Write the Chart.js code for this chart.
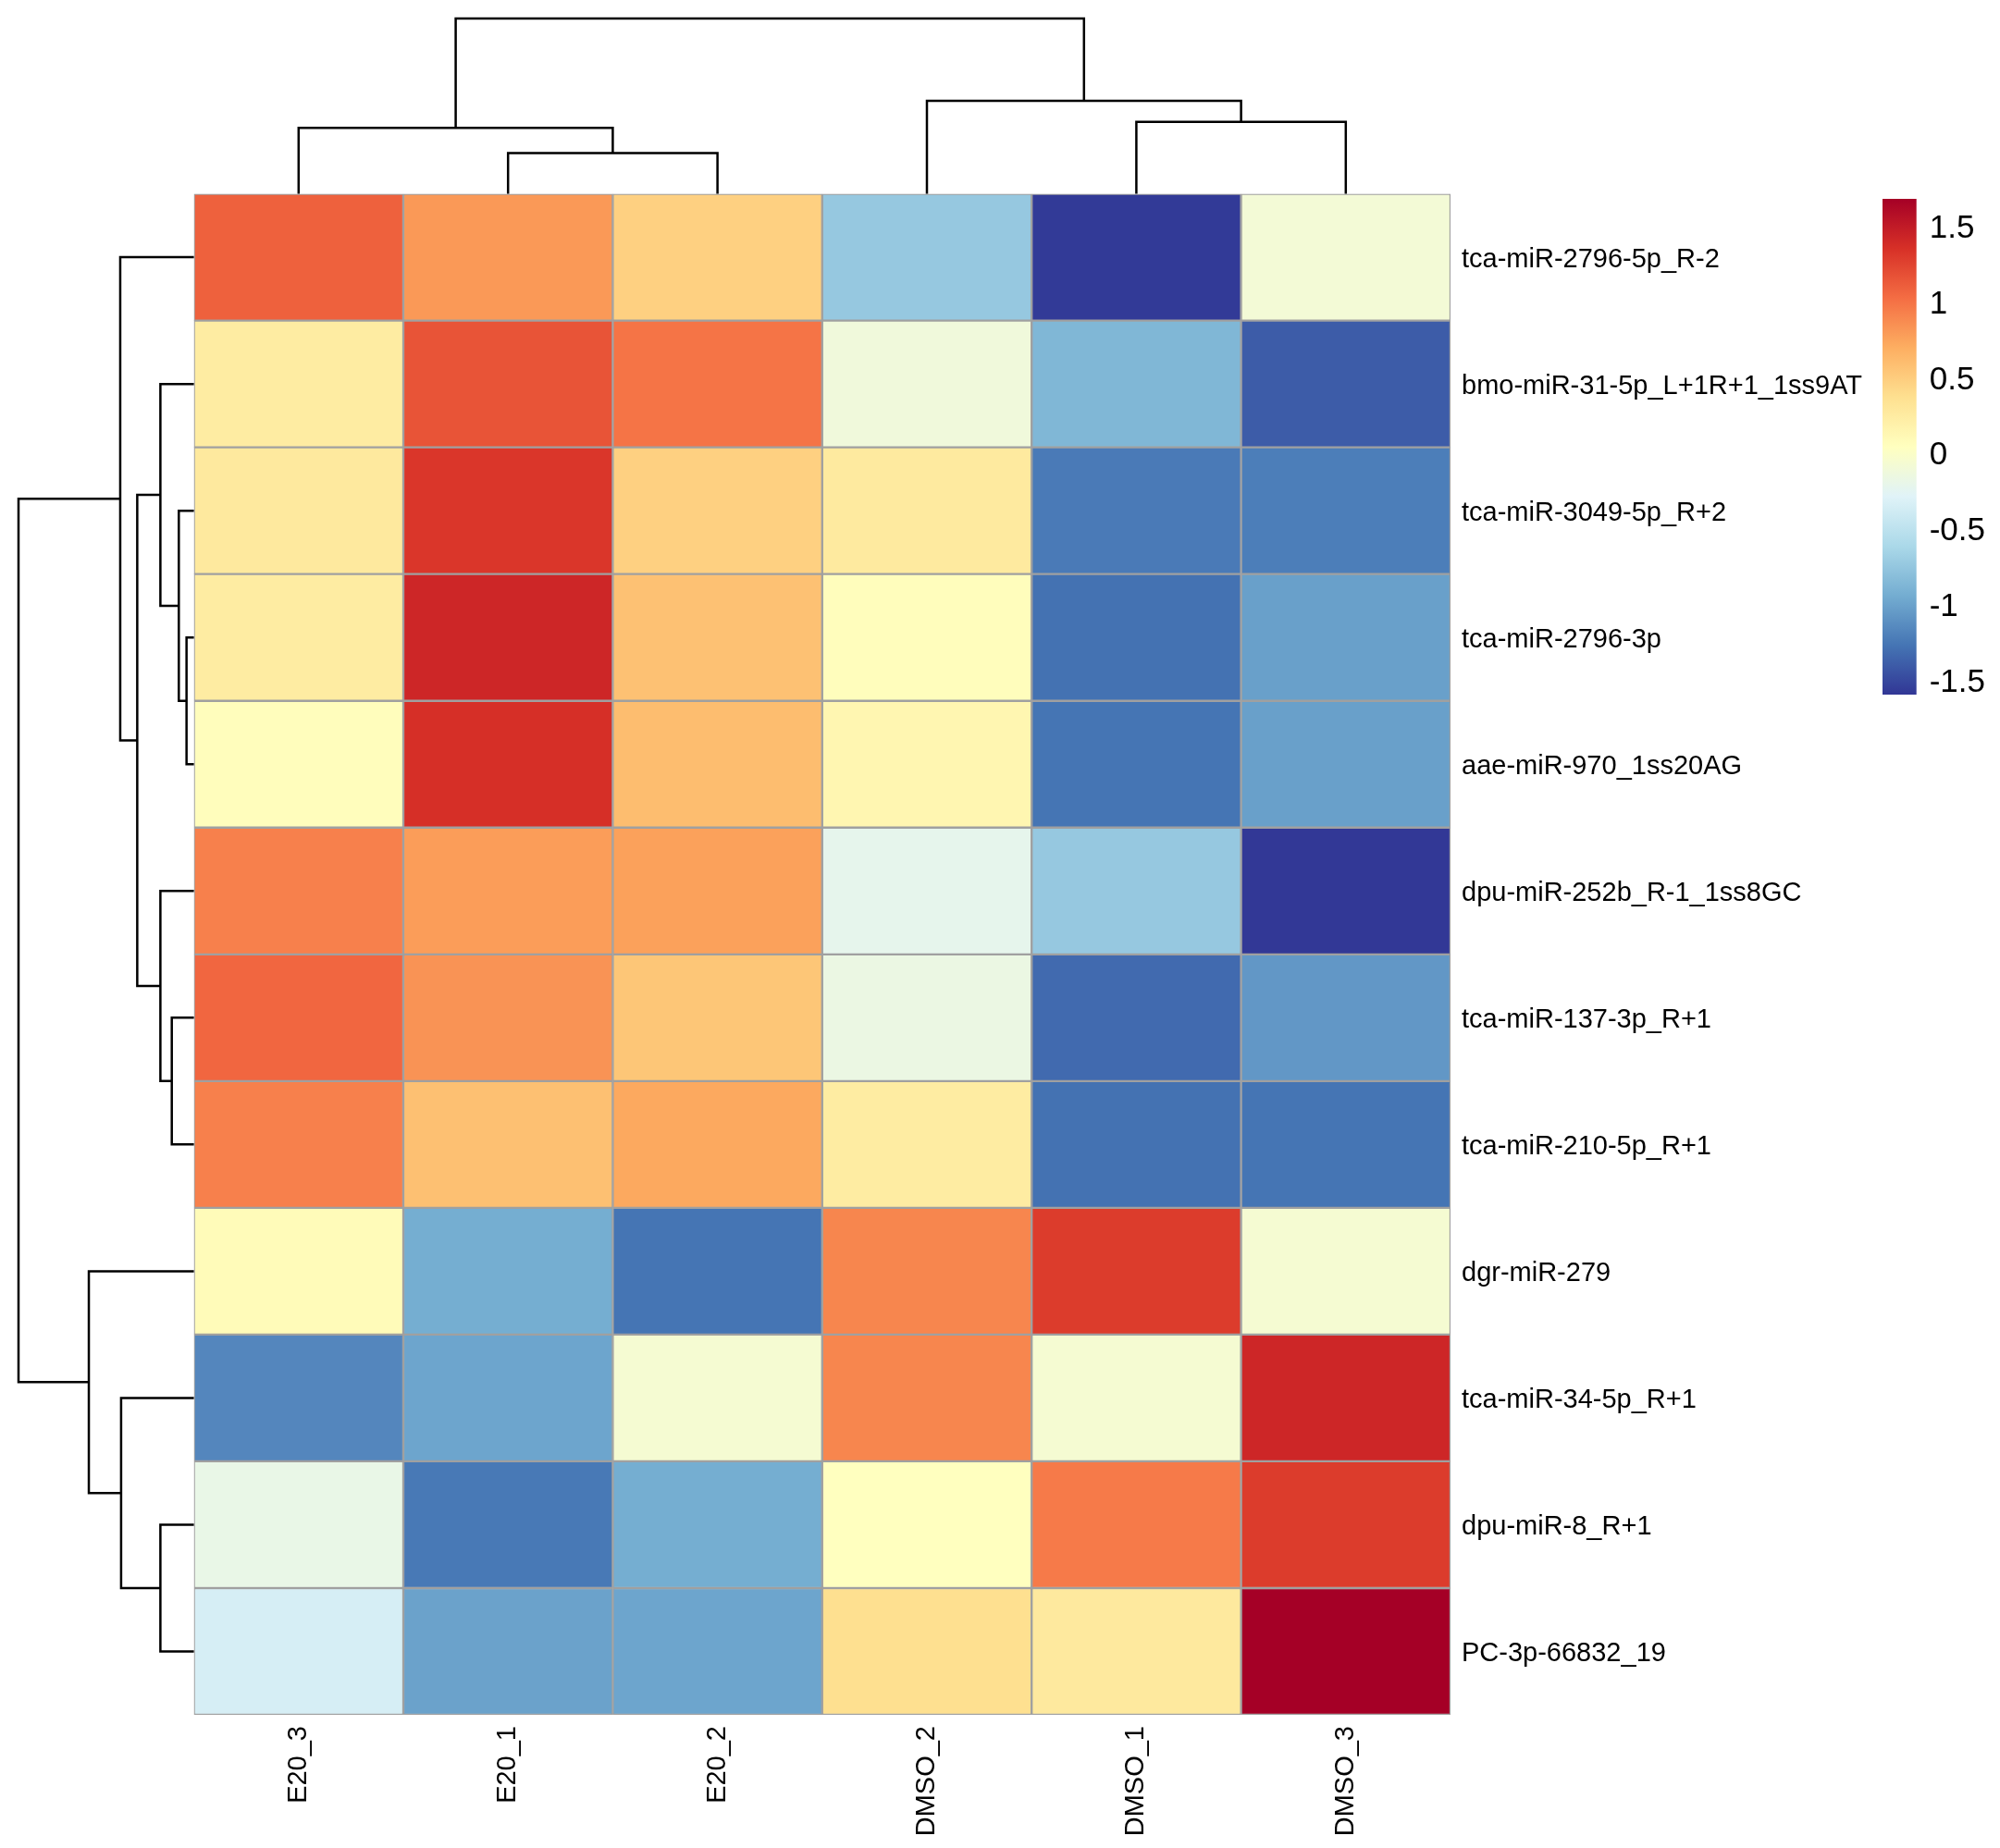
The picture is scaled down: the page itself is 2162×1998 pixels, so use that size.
<!DOCTYPE html>
<html>
<head>
<meta charset="utf-8">
<script src="https://cdn.jsdelivr.net/npm/chart.js@4.4.1/dist/chart.umd.min.js"></script>
<style>
  html, body { margin: 0; padding: 0; background: #fff; }
  .box { position: absolute; }
</style>
</head>
<body>
<div class="box" style="left:0;top:0;width:2162px;height:1998px"><canvas id="heat"></canvas></div>
<div class="box" style="left:200px;top:0;width:1378px;height:212px"><canvas id="colTree"></canvas></div>
<div class="box" style="left:0;top:200px;width:212px;height:1664px"><canvas id="rowTree"></canvas></div>
<div class="box" style="left:2020px;top:180px;width:142px;height:620px"><canvas id="legend"></canvas></div>
<script>
const colLabels = ["E20_3", "E20_1", "E20_2", "DMSO_2", "DMSO_1", "DMSO_3"];
const rowLabels = [
  "tca-miR-2796-5p_R-2",
  "bmo-miR-31-5p_L+1R+1_1ss9AT",
  "tca-miR-3049-5p_R+2",
  "tca-miR-2796-3p",
  "aae-miR-970_1ss20AG",
  "dpu-miR-252b_R-1_1ss8GC",
  "tca-miR-137-3p_R+1",
  "tca-miR-210-5p_R+1",
  "dgr-miR-279",
  "tca-miR-34-5p_R+1",
  "dpu-miR-8_R+1",
  "PC-3p-66832_19"
];

// scaled values, one row per miRNA, columns in colLabels order
const zValues = [
  [ 1.11,  0.82,  0.49, -0.72, -1.56, -0.07],
  [ 0.26,  1.18,  1.01, -0.10, -0.85, -1.38],
  [ 0.29,  1.34,  0.49,  0.28, -1.22, -1.20],
  [ 0.26,  1.44,  0.59,  0.08, -1.27, -1.00],
  [ 0.08,  1.38,  0.62,  0.16, -1.25, -1.00],
  [ 0.95,  0.80,  0.78, -0.20, -0.72, -1.57],
  [ 1.08,  0.85,  0.56, -0.15, -1.31, -1.05],
  [ 0.95,  0.60,  0.74,  0.26, -1.27, -1.25],
  [ 0.10, -0.92, -1.25,  0.92,  1.31, -0.05],
  [-1.15, -0.97, -0.05,  0.92, -0.05,  1.44],
  [-0.17, -1.23, -0.92,  0.06,  0.98,  1.31],
  [-0.33, -0.99, -0.97,  0.39,  0.29,  1.70]
];

// hclust style merges: negative = leaf position (1-based), positive = earlier merge
const colMerge = [[-2, -3], [-1, 1], [-5, -6], [-4, 3], [2, 4]];
const colHeight = [0.232, 0.376, 0.411, 0.531, 1.0];
const rowMerge = [[-4, -5], [-3, 1], [-2, 2], [-7, -8], [-6, 4], [3, 5], [-1, 6],
                  [-11, -12], [-10, 8], [-9, 9], [7, 10]];
const rowHeight = [0.042, 0.086, 0.191, 0.126, 0.191, 0.323, 0.42, 0.191, 0.415, 0.599, 1.0];

const paletteColors = ["#313695", "#4575B4", "#74ADD1", "#ABD9E9", "#E0F3F8", "#FFFFBF",
                       "#FEE090", "#FDAE61", "#F46D43", "#D73027", "#A50026"];
const colorMin = -1.58;
const colorMax = 1.70;
const legendTicks = [-1.5, -1, -0.5, 0, 0.5, 1, 1.5];

const FONT = "'Liberation Sans', Arial, Helvetica, sans-serif";

function hexToRgb(h) {
  const n = parseInt(h.slice(1), 16);
  return [(n >> 16) & 255, (n >> 8) & 255, n & 255];
}
const paletteRgb = paletteColors.map(hexToRgb);

function colorFor(v) {
  let t = (v - colorMin) / (colorMax - colorMin);
  t = Math.max(0, Math.min(1, t));
  const p = t * (paletteRgb.length - 1);
  const i = Math.min(Math.floor(p), paletteRgb.length - 2);
  const f = p - i;
  const a = paletteRgb[i], b = paletteRgb[i + 1];
  const c = a.map((x, k) => Math.round(x + (b[k] - x) * f));
  return `rgb(${c[0]},${c[1]},${c[2]})`;
}

// turn a merge table into U shaped line datasets
function treeDatasets(merge, heights, sideways) {
  const pos = [], hgt = [];
  const getPos = k => k < 0 ? (-k - 1) + 0.5 : pos[k - 1];
  const getH = k => k < 0 ? 0 : hgt[k - 1];
  return merge.map(([a, b], i) => {
    const pa = getPos(a), pb = getPos(b), h = heights[i];
    pos.push((pa + pb) / 2);
    hgt.push(h);
    const pts = [[pa, getH(a)], [pa, h], [pb, h], [pb, getH(b)]];
    return {
      data: pts.map(([p, v]) => sideways ? { x: v, y: p } : { x: p, y: v }),
      showLine: true,
      pointRadius: 0,
      borderColor: "#000",
      borderWidth: 2.5,
      borderJoinStyle: "miter",
      clip: false
    };
  });
}

Chart.defaults.font.family = FONT;
Chart.defaults.color = "#000";
const baseOpts = {
  responsive: true,
  maintainAspectRatio: false,
  animation: false,
  plugins: { legend: { display: false }, tooltip: { enabled: false } }
};

// heatmap
new Chart(document.getElementById("heat"), {
  type: "bar",
  data: {
    labels: colLabels,
    datasets: rowLabels.map((name, r) => ({
      label: name,
      data: colLabels.map(() => [r, r + 1]),
      backgroundColor: ctx => colorFor(zValues[r][ctx.dataIndex]),
      borderColor: "#A0A0A0",
      borderWidth: 1.5,
      borderSkipped: false,
      grouped: false,
      barPercentage: 1,
      categoryPercentage: 1
    }))
  },
  options: {
    ...baseOpts,
    layout: { padding: { left: 209.6, top: 209.6, right: 0, bottom: 0 } },
    scales: {
      x: {
        type: "category",
        position: "bottom",
        grid: { display: false, drawTicks: false },
        border: { display: false },
        ticks: { autoSkip: false, minRotation: 90, maxRotation: 90, padding: 12,
                 font: { size: 29 } },
        afterFit: s => { s.height = 144; }
      },
      y: {
        type: "linear",
        position: "right",
        min: 0,
        max: 12,
        reverse: true,
        grid: { display: false, drawTicks: false },
        border: { display: false },
        afterBuildTicks: s => { s.ticks = rowLabels.map((_, i) => ({ value: i + 0.52 })); },
        ticks: { autoSkip: false, padding: 12, font: { size: 29 },
                 callback: (v, i) => rowLabels[i] },
        afterFit: s => { s.width = 594; }
      }
    }
  }
});

// column dendrogram
new Chart(document.getElementById("colTree"), {
  type: "scatter",
  data: { datasets: treeDatasets(colMerge, colHeight, false) },
  options: {
    ...baseOpts,
    layout: { padding: { left: 9.6, right: 10, top: 20, bottom: 2.4 } },
    scales: {
      x: { type: "linear", display: false, min: 0, max: colLabels.length },
      y: { type: "linear", display: false, min: 0, max: 1 }
    }
  }
});

// row dendrogram
new Chart(document.getElementById("rowTree"), {
  type: "scatter",
  data: { datasets: treeDatasets(rowMerge, rowHeight, true) },
  options: {
    ...baseOpts,
    layout: { padding: { left: 20, right: 2.4, top: 9.6, bottom: 10 } },
    scales: {
      x: { type: "linear", display: false, min: 0, max: 1, reverse: true },
      y: { type: "linear", display: false, min: 0, max: rowLabels.length, reverse: true }
    }
  }
});

// colour key
new Chart(document.getElementById("legend"), {
  type: "bar",
  data: {
    labels: [""],
    datasets: [{
      data: [[colorMin, colorMax]],
      backgroundColor: ctx => {
        const area = ctx.chart.chartArea;
        if (!area) return paletteColors[5];
        const g = ctx.chart.ctx.createLinearGradient(0, area.bottom, 0, area.top);
        paletteColors.forEach((c, i) => g.addColorStop(i / (paletteColors.length - 1), c));
        return g;
      },
      borderWidth: 0,
      barPercentage: 1,
      categoryPercentage: 1
    }]
  },
  options: {
    ...baseOpts,
    layout: { padding: { left: 15, top: 29.6, bottom: 49, right: 0 } },
    scales: {
      x: { display: false },
      y: {
        type: "linear",
        position: "right",
        min: colorMin,
        max: colorMax,
        grid: { display: false, drawTicks: false },
        border: { display: false },
        afterBuildTicks: s => { s.ticks = legendTicks.map(v => ({ value: v })); },
        ticks: { padding: 14, font: { size: 35 }, callback: v => String(v) },
        afterFit: s => { s.width = 90.3; }
      }
    }
  }
});
</script>
</body>
</html>
